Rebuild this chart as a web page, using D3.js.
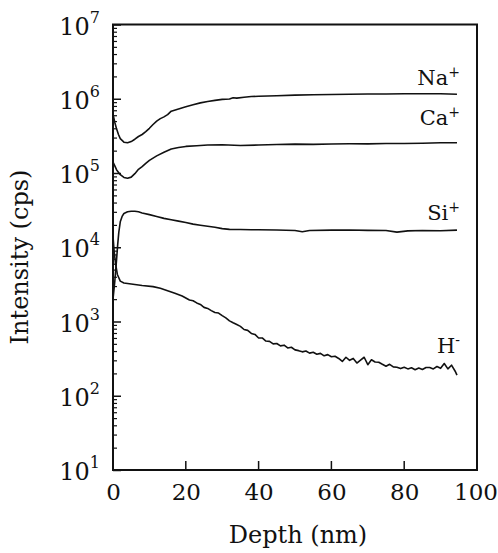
<!DOCTYPE html>
<html>
<head>
<meta charset="utf-8">
<script src="https://cdn.jsdelivr.net/npm/d3@7"></script>
<style>
  body { margin: 0; background: #fff; }
  text { font-family: "DejaVu Serif", "Liberation Serif", serif; fill: #111; }
</style>
</head>
<body>
<svg id="chart"></svg>
<script>
// depth profile data
const naDepth = [0, 0.5, 1, 1.5, 2, 3, 4, 5, 6, 7, 8, 9, 10, 11, 12, 13, 14, 15, 16, 18, 20, 22, 24, 26, 28, 30, 32, 33, 34, 36, 38, 40, 45, 50, 55, 60, 65, 70, 75, 80, 85, 90, 94.5];
const naVals  = [6.2e5, 4.8e5, 3.9e5, 3.3e5, 2.9e5, 2.6e5, 2.55e5, 2.65e5, 2.85e5, 3.1e5, 3.3e5, 3.6e5, 4.0e5, 4.5e5, 5.0e5, 5.4e5, 5.7e5, 6.1e5, 6.8e5, 7.3e5, 7.8e5, 8.3e5, 8.8e5, 9.2e5, 9.5e5, 9.8e5, 9.9e5, 1.03e6, 1.02e6, 1.05e6, 1.07e6, 1.08e6, 1.10e6, 1.12e6, 1.13e6, 1.14e6, 1.15e6, 1.16e6, 1.16e6, 1.17e6, 1.17e6, 1.17e6, 1.15e6];

const caDepth = [0, 0.5, 1, 2, 3, 4, 5, 6, 7, 8, 9, 10, 12, 14, 16, 18, 20, 23, 26, 30, 35, 40, 45, 50, 55, 60, 65, 70, 75, 80, 85, 90, 94.5];
const caVals  = [1.4e5, 1.25e5, 1.1e5, 9.5e4, 8.7e4, 8.5e4, 8.8e4, 9.8e4, 1.12e5, 1.22e5, 1.35e5, 1.48e5, 1.7e5, 1.9e5, 2.1e5, 2.2e5, 2.28e5, 2.33e5, 2.38e5, 2.4e5, 2.35e5, 2.38e5, 2.42e5, 2.45e5, 2.43e5, 2.46e5, 2.48e5, 2.47e5, 2.5e5, 2.5e5, 2.52e5, 2.55e5, 2.55e5];

const siDepth = [0, 0.5, 1, 1.3, 1.6, 2, 2.5, 3, 4, 5, 6, 7, 8, 10, 12, 14, 16, 18, 20, 22, 24, 26, 28, 30, 32, 35, 38, 40, 45, 50, 52, 54, 60, 65, 70, 75, 78, 81, 85, 90, 94.5];
const siVals  = [2.0e3, 3.5e3, 7e3, 1.1e4, 1.6e4, 2.2e4, 2.6e4, 2.85e4, 3.0e4, 3.05e4, 3.05e4, 3.0e4, 2.9e4, 2.75e4, 2.6e4, 2.45e4, 2.35e4, 2.25e4, 2.15e4, 2.05e4, 1.98e4, 1.92e4, 1.86e4, 1.78e4, 1.74e4, 1.73e4, 1.72e4, 1.72e4, 1.71e4, 1.68e4, 1.62e4, 1.68e4, 1.70e4, 1.71e4, 1.69e4, 1.68e4, 1.6e4, 1.66e4, 1.68e4, 1.67e4, 1.70e4];

const hDepth = [0, 0.3, 0.7, 1.2, 2, 3, 5, 8, 11, 13, 15, 17, 19, 21, 22, 23, 24, 25, 26, 27, 28, 29, 30, 31, 32, 33, 34, 35, 36, 37, 38, 39, 40, 41, 42, 43, 44, 45, 46, 47, 48, 49, 50, 51, 52, 53, 54, 55, 56, 57, 58, 59, 60, 61, 62, 63, 64, 65, 66, 67, 68, 69, 70, 71, 72, 73, 74, 75, 76, 77, 78, 79, 80, 81, 82, 83, 84, 85, 86, 87, 88, 89, 90, 91, 92, 93, 94, 94.5];
const hVals  = [1.4e4, 9e3, 6e3, 4.3e3, 3.5e3, 3.3e3, 3.2e3, 3.05e3, 2.95e3, 2.8e3, 2.6e3, 2.4e3, 2.2e3, 1.95e3, 1.9e3, 1.78e3, 1.7e3, 1.55e3, 1.5e3, 1.4e3, 1.32e3, 1.3e3, 1.2e3, 1.12e3, 1.02e3, 960, 910, 860, 780, 760, 690, 670, 600, 600, 545, 540, 500, 505, 470, 480, 440, 450, 415, 405, 390, 400, 375, 385, 362, 372, 345, 358, 335, 340, 318, 290, 330, 300, 318, 276, 302, 330, 262, 305, 285, 282, 265, 250, 265, 245, 242, 232, 242, 230, 238, 224, 236, 226, 240, 240, 230, 248, 234, 272, 230, 258, 214, 190];

const seriesNames = ["Na", "Ca", "Si", "H"];
const seriesSigns = ["+", "+", "+", "-"];

const xTicks = [0, 20, 40, 60, 80, 100];
const yExponents = [1, 2, 3, 4, 5, 6, 7];

const W = 498, H = 553;
const margin = { top: 24.5, right: 21, bottom: 83, left: 113 };
const width = W - margin.left - margin.right,
      height = H - margin.top - margin.bottom;

const svg = d3.select("#chart")
  .attr("width", W)
  .attr("height", H);

const g = svg.append("g")
  .attr("transform", "translate(" + margin.left + "," + margin.top + ")");

const x = d3.scaleLinear().domain([0, 100]).range([0, width]);
const y = d3.scaleLog().domain([10, 1e7]).range([height, 0]);

// minor ticks on the left axis
const minor = [];
yExponents.slice(0, -1).forEach(e => {
  for (let k = 2; k <= 9; k++) minor.push(k * Math.pow(10, e));
});

g.append("g")
  .attr("class", "minor")
  .call(d3.axisLeft(y).tickValues(minor).tickSize(-4).tickFormat(""))
  .call(s => s.select(".domain").remove())
  .selectAll("line").attr("stroke", "#111").attr("stroke-width", 1.2);

// major y ticks + labels 10^n
const yAxis = g.append("g")
  .call(d3.axisLeft(y)
    .tickValues(yExponents.map(e => Math.pow(10, e)))
    .tickSize(-8)
    .tickPadding(13)
    .tickFormat(""));
yAxis.select(".domain").remove();
yAxis.selectAll("line").attr("stroke", "#111").attr("stroke-width", 1.5);
yAxis.selectAll(".tick text")
  .attr("font-size", 24)
  .attr("dy", "0.4em")
  .each(function(d) {
    const t = d3.select(this);
    t.append("tspan").text("10");
    t.append("tspan")
      .attr("font-size", 16)
      .attr("dy", "-0.75em")
      .text(Math.round(Math.log10(d)));
  });

// x axis
const xAxis = g.append("g")
  .attr("transform", `translate(0, ${height})`)
  .call(d3.axisBottom(x).tickValues(xTicks).tickSize(0).tickPadding(14));
xAxis.select(".domain").remove();
xAxis.selectAll("text").attr("font-size", 23).attr("dy", "0.71em")
  .attr("dx", d => d === 100 ? -1.5 : 0);

g.append("g")
  .selectAll("line")
  .data(xTicks.slice(1, -1))
  .enter().append("line")
  .attr("x1", d => x(d)).attr("x2", d => x(d))
  .attr("y1", height).attr("y2", height - 9)
  .attr("stroke", "#111").attr("stroke-width", 1.5);

// frame
g.append("rect")
  .attr("width", width).attr("height", height)
  .attr("fill", "none").attr("stroke", "#111").attr("stroke-width", 2);

// curves
const line = d3.line()
  .x(d => x(d[0]))
  .y(d => y(d[1]));

const series = [
  d3.zip(naDepth, naVals),
  d3.zip(caDepth, caVals),
  d3.zip(siDepth, siVals),
  d3.zip(hDepth, hVals)
];

g.selectAll(".curve")
  .data(series)
  .enter().append("path")
  .attr("class", "curve")
  .attr("d", line)
  .attr("fill", "none")
  .attr("stroke", "#111")
  .attr("stroke-width", 1.6)
  .attr("stroke-linejoin", "round");

// series labels
const labelY = [85, 125, 220, 353];
seriesNames.forEach((name, i) => {
  const t = svg.append("text")
    .attr("x", 460)
    .attr("y", labelY[i])
    .attr("text-anchor", "end")
    .attr("font-size", 21);
  t.append("tspan").text(name);
  t.append("tspan").attr("font-size", 14).attr("dy", "-0.55em").text(seriesSigns[i]);
});

// axis titles
svg.append("text")
  .attr("x", 298)
  .attr("y", 543)
  .attr("text-anchor", "middle")
  .attr("font-size", 24)
  .text("Depth (nm)");

svg.append("text")
  .attr("transform", "translate(28, 257) rotate(-90)")
  .attr("text-anchor", "middle")
  .attr("font-size", 24)
  .text("Intensity (cps)");
</script>
</body>
</html>
